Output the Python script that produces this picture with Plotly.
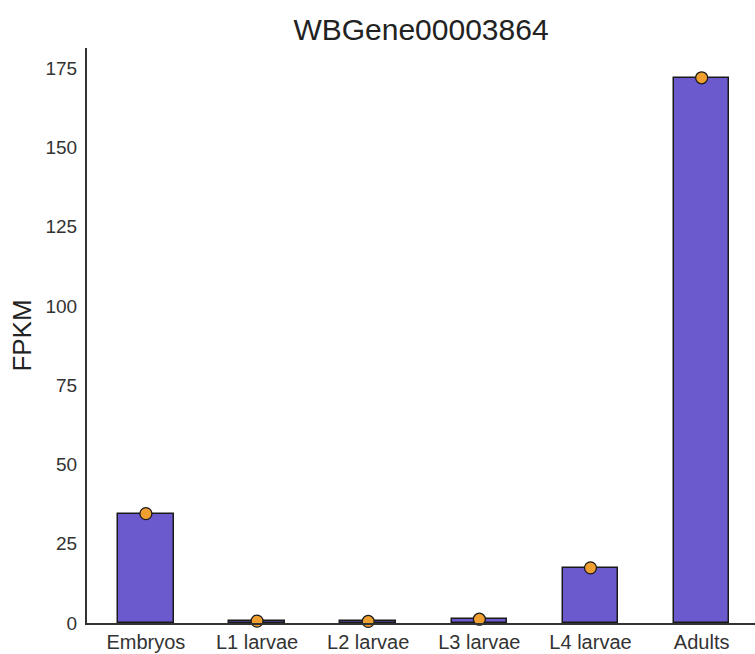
import plotly.graph_objects as go

categories = ["Embryos", "L1 larvae", "L2 larvae", "L3 larvae", "L4 larvae", "Adults"]
fpkm = [34.5, 0.6, 0.5, 1.2, 17.4, 172.0]
title = "WBGene00003864"

xs = list(range(len(categories)))

fig = go.Figure()
fig.add_trace(go.Bar(
    x=xs, y=fpkm, width=0.5,
    marker=dict(color="#6a5acd", line=dict(color="#1a1a1a", width=1.5)),
    showlegend=False,
))
fig.add_trace(go.Scatter(
    x=xs, y=fpkm, mode="markers",
    marker=dict(color="#f0a030", size=12, line=dict(color="#1a1a1a", width=1.3)),
    showlegend=False, cliponaxis=False,
))
fig.update_layout(
    width=755, height=654,
    margin=dict(l=87, r=0, t=48, b=31, autoexpand=False),
    paper_bgcolor="white", plot_bgcolor="white",
    font=dict(family="Liberation Sans, Arial, sans-serif", color="#333333"),
    title=dict(text=title, x=0.5, xref="paper", y=0.955, yanchor="middle",
               font=dict(size=30, color="#222222")),
    bargap=0,
)
fig.update_xaxes(
    range=[-0.53, 5.48], tickvals=xs, ticktext=categories, automargin=False,
    showline=True, linecolor="#333333", linewidth=2,
    showgrid=False, zeroline=False, ticks="", ticklabelstandoff=0,
    tickfont=dict(size=20, color="#333333"),
)
fig.update_yaxes(
    range=[0, 181.4], tickvals=[0, 25, 50, 75, 100, 125, 150, 175], automargin=False,
    showline=True, linecolor="#333333", linewidth=2,
    showgrid=False, zeroline=False, ticks="", ticklabelstandoff=4,
    tickfont=dict(size=19, color="#333333"),
    title=dict(text="FPKM", font=dict(size=26, color="#222222"), standoff=6),
)
fig.write_html("out.html")
